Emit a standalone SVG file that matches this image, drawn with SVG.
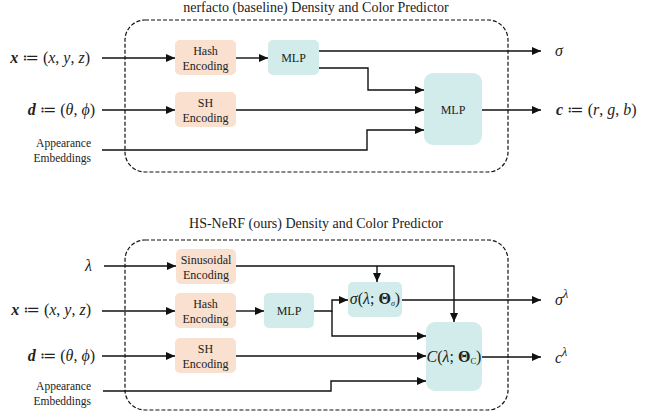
<svg xmlns="http://www.w3.org/2000/svg" width="650" height="413" viewBox="0 0 650 413">
<defs>
<marker id="ah" markerWidth="9" markerHeight="8" refX="9" refY="4" orient="auto" markerUnits="userSpaceOnUse">
<path d="M0,0 L9,4 L0,8 z" fill="#111"/>
</marker>
<style>
.t{font-family:"Liberation Serif","Times New Roman",serif;fill:#222}
.lbl{font-size:12px;text-anchor:middle}
.ttl{font-size:14px;text-anchor:middle}
.m{font-family:"Liberation Serif","DejaVu Serif",serif;font-size:16px;fill:#222}
.mi{font-style:italic}
.b{font-weight:bold;font-style:italic}
.enc{fill:#f9e0cf}
.mlp{fill:#d1ecea}
.frame{fill:none;stroke:#111;stroke-width:1.2;stroke-dasharray:4 2}
.c{fill:none;stroke:#111;stroke-width:1.4}
.a{marker-end:url(#ah)}
</style>
</defs>

<!-- Top panel -->
<g id="top-panel">
<text class="t ttl" x="316" y="12">nerfacto (baseline) Density and Color Predictor</text>
<rect class="frame" x="125" y="20" width="383" height="152" rx="20"/>
</g>
<g id="top-in-x"><text class="m" x="90" y="63" text-anchor="end"><tspan class="b">x</tspan> ≔ (<tspan class="mi">x</tspan>, <tspan class="mi">y</tspan>, <tspan class="mi">z</tspan>)</text></g>
<g id="top-in-d"><text class="m" x="95" y="115" text-anchor="end"><tspan class="b">d</tspan> ≔ (<tspan class="mi">θ</tspan>, <tspan class="mi">ϕ</tspan>)</text></g>
<g id="top-in-app"><text class="t" font-size="11.5" text-anchor="end" x="91" y="147">Appearance</text><text class="t" font-size="11.5" text-anchor="end" x="91" y="162">Embeddings</text></g>
<g id="top-hash"><rect class="enc" x="175" y="40" width="61" height="35" rx="5"/><text class="t lbl" x="205.5" y="55">Hash</text><text class="t lbl" x="205.5" y="70">Encoding</text></g>
<g id="top-sh"><rect class="enc" x="175" y="92" width="61" height="35" rx="5"/><text class="t lbl" x="205.5" y="107">SH</text><text class="t lbl" x="205.5" y="122">Encoding</text></g>
<g id="top-mlp1"><rect class="mlp" x="268" y="40" width="51" height="35" rx="5"/><text class="t lbl" x="293.5" y="62">MLP</text></g>
<g id="top-mlp2"><rect class="mlp" x="424" y="73" width="58" height="72" rx="9"/><text class="t lbl" x="453" y="114">MLP</text></g>
<g id="top-out-sigma"><text class="m mi" x="555" y="56">σ</text></g>
<g id="top-out-c"><text class="m" x="556" y="115"><tspan class="b">c</tspan> ≔ (<tspan class="mi">r</tspan>, <tspan class="mi">g</tspan>, <tspan class="mi">b</tspan>)</text></g>

<g id="top-connectors">
<path class="c a" d="M102,58 H175"/>
<path class="c a" d="M236,58 H268"/>
<path class="c a" d="M319,51 H541"/>
<path class="c a" d="M319,68 H368 V90 H424"/>
<path class="c a" d="M102,110 H175"/>
<path class="c a" d="M236,110 H424"/>
<path class="c a" d="M102,150 H367 V130 H424"/>
<path class="c a" d="M482,110 H541"/>
</g>

<!-- Bottom panel -->
<g id="bottom-panel">
<text class="t ttl" x="316" y="228">HS-NeRF (ours) Density and Color Predictor</text>
<rect class="frame" x="125" y="240" width="383" height="170" rx="20"/>
</g>
<g id="bot-in-lambda"><text class="m mi" x="92" y="271" text-anchor="end">λ</text></g>
<g id="bot-in-x"><text class="m" x="91" y="315" text-anchor="end"><tspan class="b">x</tspan> ≔ (<tspan class="mi">x</tspan>, <tspan class="mi">y</tspan>, <tspan class="mi">z</tspan>)</text></g>
<g id="bot-in-d"><text class="m" x="95" y="361" text-anchor="end"><tspan class="b">d</tspan> ≔ (<tspan class="mi">θ</tspan>, <tspan class="mi">ϕ</tspan>)</text></g>
<g id="bot-in-app"><text class="t" font-size="11.5" text-anchor="end" x="91" y="390">Appearance</text><text class="t" font-size="11.5" text-anchor="end" x="91" y="405">Embeddings</text></g>
<g id="bot-sin"><rect class="enc" x="176" y="249" width="60" height="35" rx="5"/><text class="t lbl" x="206" y="264">Sinusoidal</text><text class="t lbl" x="206" y="279">Encoding</text></g>
<g id="bot-hash"><rect class="enc" x="175" y="293" width="61" height="35" rx="5"/><text class="t lbl" x="205.5" y="308">Hash</text><text class="t lbl" x="205.5" y="323">Encoding</text></g>
<g id="bot-sh"><rect class="enc" x="175" y="338" width="61" height="35" rx="5"/><text class="t lbl" x="205.5" y="353">SH</text><text class="t lbl" x="205.5" y="368">Encoding</text></g>
<g id="bot-mlp"><rect class="mlp" x="264" y="293" width="50" height="35" rx="5"/><text class="t lbl" x="289" y="315">MLP</text></g>
<g id="bot-sigma"><rect class="mlp" x="348" y="282" width="54" height="35" rx="5"/><text class="m" font-size="11.5" x="375" y="304" text-anchor="middle"><tspan class="mi">σ</tspan>(<tspan class="mi">λ</tspan>; <tspan font-weight="bold">Θ</tspan><tspan class="mi" font-size="8" dy="2">σ</tspan><tspan dy="-2">)</tspan></text></g>
<g id="bot-color"><rect class="mlp" x="426" y="322" width="56" height="69" rx="9"/><text class="m" font-size="12" x="454" y="362" text-anchor="middle"><tspan class="mi">C</tspan>(<tspan class="mi">λ</tspan>; <tspan font-weight="bold">Θ</tspan><tspan font-size="8.5" dy="2">C</tspan><tspan dy="-2">)</tspan></text></g>
<g id="bot-out-sigma"><text class="m" x="555" y="305"><tspan class="mi">σ</tspan><tspan class="mi" font-size="12" dy="-7">λ</tspan></text></g>
<g id="bot-out-c"><text class="m" x="555" y="363"><tspan class="mi">c</tspan><tspan class="mi" font-size="12" dy="-7">λ</tspan></text></g>

<g id="bottom-connectors">
<path class="c a" d="M104,266 H176"/>
<path class="c a" d="M236,266 H454 V322"/>
<path class="c a" d="M377,266 V282"/>
<path class="c a" d="M102,311 H175"/>
<path class="c a" d="M236,311 H264"/>
<path class="c a" d="M314,311 H332 V300 H348"/>
<path class="c a" d="M332,311 V336 H426"/>
<path class="c a" d="M102,356 H175"/>
<path class="c a" d="M236,356 H426"/>
<path class="c a" d="M103,391 H331 V381 H426"/>
<path class="c a" d="M402,300 H541"/>
<path class="c a" d="M482,357 H541"/>
</g>
</svg>
